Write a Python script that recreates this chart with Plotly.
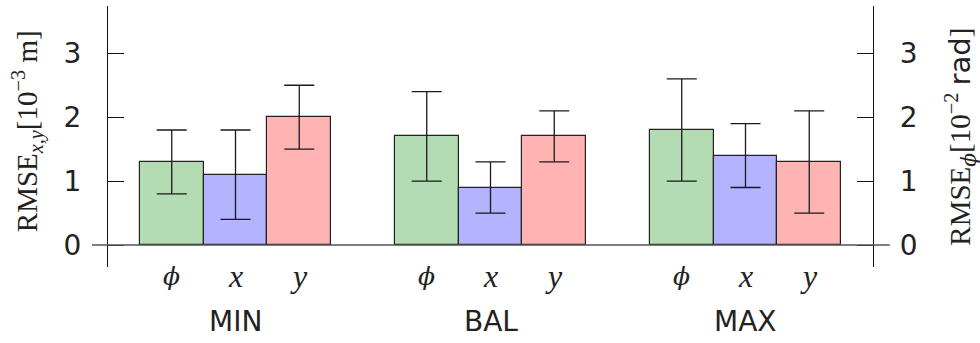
import plotly.graph_objects as go

# Controller settings (groups) and error components (bars within a group)
groups = ["MIN", "BAL", "MAX"]
components = ["ϕ", "x", "y"]

# Mean RMSE and the lower / upper ends of each error bar
phi_mean = [1.3, 1.7, 1.8]
phi_low = [0.8, 1.0, 1.0]
phi_high = [1.8, 2.4, 2.6]

x_mean = [1.1, 0.9, 1.4]
x_low = [0.4, 0.5, 0.9]
x_high = [1.8, 1.3, 1.9]

y_mean = [2.0, 1.7, 1.3]
y_low = [1.5, 1.3, 0.5]
y_high = [2.5, 2.1, 2.1]

y_ticks = [0, 1, 2, 3]

series = [
    ("ϕ", phi_mean, phi_low, phi_high, "#b3dcb3"),
    ("x", x_mean, x_low, x_high, "#b3b3ff"),
    ("y", y_mean, y_low, y_high, "#ffb3b3"),
]

BAR_W = 0.25
offsets = [-BAR_W, 0.0, BAR_W]

fig = go.Figure()
for (name, mean, low, high, color), off in zip(series, offsets):
    xs = [g + off for g in range(len(groups))]
    fig.add_trace(go.Bar(
        x=xs, y=mean, width=BAR_W, name=name,
        marker=dict(color=color, line=dict(color="#222222", width=1.2)),
        error_y=dict(
            type="data", symmetric=False,
            array=[h - m for h, m in zip(high, mean)],
            arrayminus=[m - l for m, l in zip(mean, low)],
            color="#1a1a1a", thickness=1.3, width=15,
        ),
        showlegend=False,
    ))

# invisible trace to activate the right-hand axis
fig.add_trace(go.Scatter(x=[0], y=[0], yaxis="y2", mode="markers",
                         marker=dict(opacity=0), showlegend=False, hoverinfo="skip"))

YR = [-0.344, 3.74]
tickfont = dict(family="DejaVu Sans", size=28, color="#222222")
axis_common = dict(
    range=YR, tickvals=y_ticks, ticks="inside", ticklen=16, tickwidth=1.2,
    tickcolor="#111111", showline=True, linecolor="#111111", linewidth=1.2,
    showgrid=False, zeroline=False, tickfont=tickfont, fixedrange=True,
)

fig.update_layout(
    width=980, height=343,
    margin=dict(l=108, r=107, t=6, b=76),
    paper_bgcolor="white", plot_bgcolor="white",
    bargap=0, barmode="overlay",
    xaxis=dict(range=[-0.5, 2.5], showticklabels=False, ticks="",
               showgrid=False, zeroline=False, showline=False),
    yaxis=dict(**axis_common, side="left", ticklabelstandoff=20),
    yaxis2=dict(**axis_common, side="right", overlaying="y", ticklabelstandoff=20),
)

# baseline at zero, extending slightly past both axes
fig.add_shape(type="line", xref="paper", yref="y", x0=-0.021, x1=1.022, y0=0, y1=0,
              line=dict(color="#555555", width=1.3), layer="above")

serif = "Liberation Serif, DejaVu Serif, serif"
phi_font = "DejaVu Serif"


def math_label(s, phi_size=None):
    # the stroked phi glyph comes from DejaVu Serif; latin letters stay in the serif face
    if s == "ϕ":
        size = f";font-size:{phi_size}px" if phi_size else ""
        return f"<span style='font-family:{phi_font}{size}'><i>{s}</i></span>"
    return f"<i>{s}</i>"


# component labels under every bar, group labels below them
for gi, g in enumerate(groups):
    for comp, off in zip(components, offsets):
        fig.add_annotation(x=gi + off, y=-0.035, xref="x", yref="paper",
                           xanchor="center", yanchor="middle",
                           text=math_label(comp, phi_size=25), showarrow=False,
                           font=dict(family=serif, size=32, color="#222222"))
    fig.add_annotation(x=gi, y=-0.21, xref="x", yref="paper", text=g,
                       xanchor="center", yanchor="middle", showarrow=False,
                       font=dict(family="DejaVu Sans", size=28, color="#222222"))

fig.add_annotation(
    x=-0.106, y=0.52, xref="paper", yref="paper", textangle=-90, showarrow=False,
    xanchor="center", yanchor="middle",
    text="RMSE<sub><i>x,y</i></sub>[10<sup>−3</sup> m]",
    font=dict(family=serif, size=29, color="#222222"),
)
fig.add_annotation(
    x=1.114, y=0.5, xref="paper", yref="paper", textangle=-90, showarrow=False,
    xanchor="center", yanchor="middle",
    text="RMSE<sub>" + math_label("ϕ") + "</sub>[10<sup>−2</sup> "
         "<span style='font-family:DejaVu Sans'>rad</span>]",
    font=dict(family=serif, size=29, color="#222222"),
)

fig.write_html("out.html")
